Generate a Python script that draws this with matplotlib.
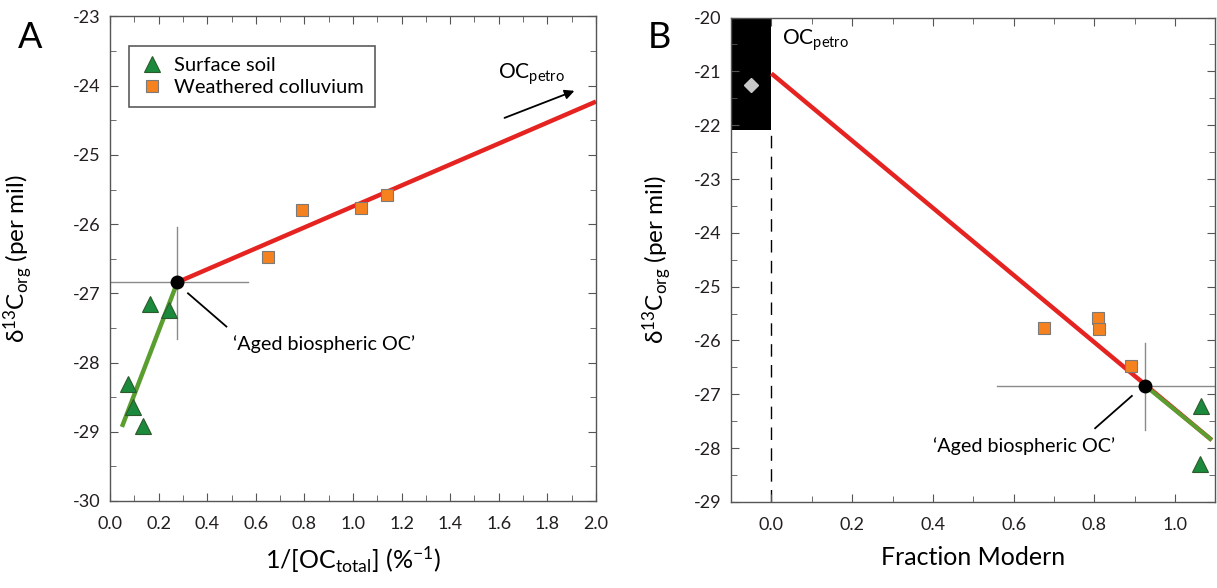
import matplotlib
matplotlib.use("Agg")
import matplotlib.pyplot as plt
from matplotlib.ticker import MultipleLocator

plt.rcParams['font.family'] = ['Lato', 'DejaVu Sans']
plt.rcParams['mathtext.fontset'] = 'custom'
plt.rcParams['mathtext.rm'] = 'Lato'
plt.rcParams['mathtext.it'] = 'Lato'
plt.rcParams['mathtext.default'] = 'regular'
plt.rcParams['axes.unicode_minus'] = False

# panel A: 1/[OC_total] vs d13C
soil_inv = [0.166, 0.243, 0.073, 0.096, 0.134]
soil_d13 = [-27.15, -27.24, -28.31, -28.64, -28.92]
coll_inv = [0.649, 0.792, 1.035, 1.138]
coll_d13 = [-26.47, -25.79, -25.77, -25.58]
aged_inv, aged_d13 = 0.277, -26.84
aged_inv_err = (0.0, 0.566)
aged_d13_err = (-26.04, -27.66)
green_a_x = [0.049, aged_inv]
green_a_y = [-28.93, aged_d13]
red_a_x = [aged_inv, 2.0]
red_a_y = [aged_d13, -24.23]

# panel B: fraction modern vs d13C
coll_fm = [0.675, 0.809, 0.811, 0.892]
coll_d13_b = [-25.76, -25.59, -25.78, -26.47]
soil_fm = [1.064, 1.061]
soil_d13_b = [-27.22, -28.30]
petro_fm, petro_d13 = -0.05, -21.25
petro_box_y = (-22.09, -20.0)
aged_fm = 0.926
aged_fm_err = (0.56, 1.1)
red_b_x = [0.0, 1.091]
red_b_y = [-21.04, -27.85]
green_b_x = [aged_fm, 1.091]
green_b_y = [aged_d13, -27.85]

GREEN = '#1b8a3c'
ORANGE = '#f5821f'
RED = '#e52421'
LGREEN = '#5a9e2f'
GREY = '#8a8a8a'
SPINE = '#555555'

fig = plt.figure(figsize=(12.17, 5.88), dpi=100)
axA = fig.add_axes([0.0904, 0.148, 0.3993, 0.824])
axB = fig.add_axes([0.6007, 0.1463, 0.398, 0.8239])


def style(ax):
    for s in ax.spines.values():
        s.set_color(SPINE)
        s.set_linewidth(1.0)
    ax.tick_params(which='both', direction='in', top=True, right=True,
                   colors=SPINE, labelcolor='#231f20', labelsize=13)
    ax.tick_params(which='major', length=6)
    ax.tick_params(which='minor', length=4)
    ax.tick_params(axis='x', pad=11)
    ax.tick_params(axis='y', pad=7)
    ax.yaxis.set_major_locator(MultipleLocator(1))
    ax.yaxis.set_minor_locator(MultipleLocator(0.5))
    ax.xaxis.set_major_locator(MultipleLocator(0.2))
    ax.xaxis.set_minor_locator(MultipleLocator(0.1))


ylab = '\u03b4$^{13}$C$_{org}$ (per mil)'

# ---- panel A
ax = axA
ax.plot([aged_inv_err[0], aged_inv_err[1]], [aged_d13, aged_d13], color=GREY, lw=1, zorder=1)
ax.plot([aged_inv, aged_inv], [aged_d13_err[0], aged_d13_err[1]], color=GREY, lw=1, zorder=1)
ax.plot(green_a_x, green_a_y, color=LGREEN, lw=3.2, solid_capstyle='butt', zorder=2)
ax.plot(red_a_x, red_a_y, color=RED, lw=3.2, solid_capstyle='butt', zorder=2)
ax.plot(soil_inv, soil_d13, ls='none', marker='^', ms=11, mfc=GREEN, mec='#2d5a2d',
        mew=0.8, zorder=3, label='Surface soil')
ax.plot(coll_inv, coll_d13, ls='none', marker='s', ms=8.5, mfc=ORANGE, mec='#7a7a7a',
        mew=0.8, zorder=3, label='Weathered colluvium')
ax.plot(aged_inv, aged_d13, 'o', color='black', ms=9, zorder=4)
ax.plot([0.321, 0.479], [-27.0, -27.48], color='black', lw=1.3)
ax.text(0.505, -27.73, '\u2018Aged biospheric OC\u2019', fontsize=14.2, va='center', ha='left')
ax.annotate('', xy=(1.922, -24.06), xytext=(1.613, -24.48),
            arrowprops=dict(arrowstyle='-|>', color='black', lw=1.3, mutation_scale=14))
ax.text(1.597, -23.84, r'OC$_{petro}$', fontsize=15, va='center', ha='left')
ax.set_xlim(0, 2.0)
ax.set_ylim(-30, -23)
style(ax)
ax.set_xlabel(r'1/[OC$_{total}$] (%$^{-1}$)', fontsize=18, labelpad=9)
ax.set_ylabel(ylab, fontsize=17.5)
ax.yaxis.set_label_coords(-0.155, 0.5)
leg = ax.legend(loc='upper left', bbox_to_anchor=(0.039, 0.939), fontsize=14.5,
                frameon=True, fancybox=False, handletextpad=0.5, borderpad=0.55,
                labelspacing=0.25, handlelength=1.2, borderaxespad=0)
leg.get_frame().set_edgecolor('#333333')
leg.get_frame().set_linewidth(1.2)
fig.text(0.0148, 0.918, 'A', fontsize=26, ha='left', va='baseline')

# ---- panel B
ax = axB
ax.fill_between([-0.1, 0.0], petro_box_y[0], petro_box_y[1], color='black', lw=0, zorder=1)
ax.plot([0, 0], [-29, petro_box_y[0]], color='black', lw=1, ls=(0, (9, 6)), zorder=1)
ax.plot([aged_fm_err[0], aged_fm_err[1]], [aged_d13, aged_d13], color=GREY, lw=1, zorder=1)
ax.plot([aged_fm, aged_fm], [aged_d13_err[0], aged_d13_err[1]], color=GREY, lw=1, zorder=1)
ax.plot(red_b_x, red_b_y, color=RED, lw=3.2, solid_capstyle='butt', zorder=2)
ax.plot(green_b_x, green_b_y, color=LGREEN, lw=3.0, solid_capstyle='butt', zorder=2)
ax.plot(coll_fm, coll_d13_b, ls='none', marker='s', ms=8.5, mfc=ORANGE, mec='#7a7a7a',
        mew=0.8, zorder=3)
ax.plot(soil_fm, soil_d13_b, ls='none', marker='^', ms=11, mfc=GREEN, mec='#2d5a2d',
        mew=0.8, zorder=3)
ax.plot(petro_fm, petro_d13, 'D', ms=7, mfc='#c8c8c8', mec='#c8c8c8', zorder=3)
ax.plot(aged_fm, aged_d13, 'o', color='black', ms=9, zorder=4)
ax.plot([0.802, 0.893], [-27.63, -27.03], color='black', lw=1.3)
ax.text(0.400, -27.97, '\u2018Aged biospheric OC\u2019', fontsize=14.2, va='center', ha='left')
ax.text(0.025, -20.42, r'OC$_{petro}$', fontsize=15, va='center', ha='left')
ax.set_xlim(-0.1, 1.1)
ax.set_ylim(-29, -20)
style(ax)
ax.set_xlabel('Fraction Modern', fontsize=18, labelpad=9)
ax.set_ylabel(ylab, fontsize=17.5)
ax.yaxis.set_label_coords(-0.118, 0.5)
fig.text(0.532, 0.918, 'B', fontsize=26, ha='left', va='baseline')

fig.savefig('out.png', dpi=100)
